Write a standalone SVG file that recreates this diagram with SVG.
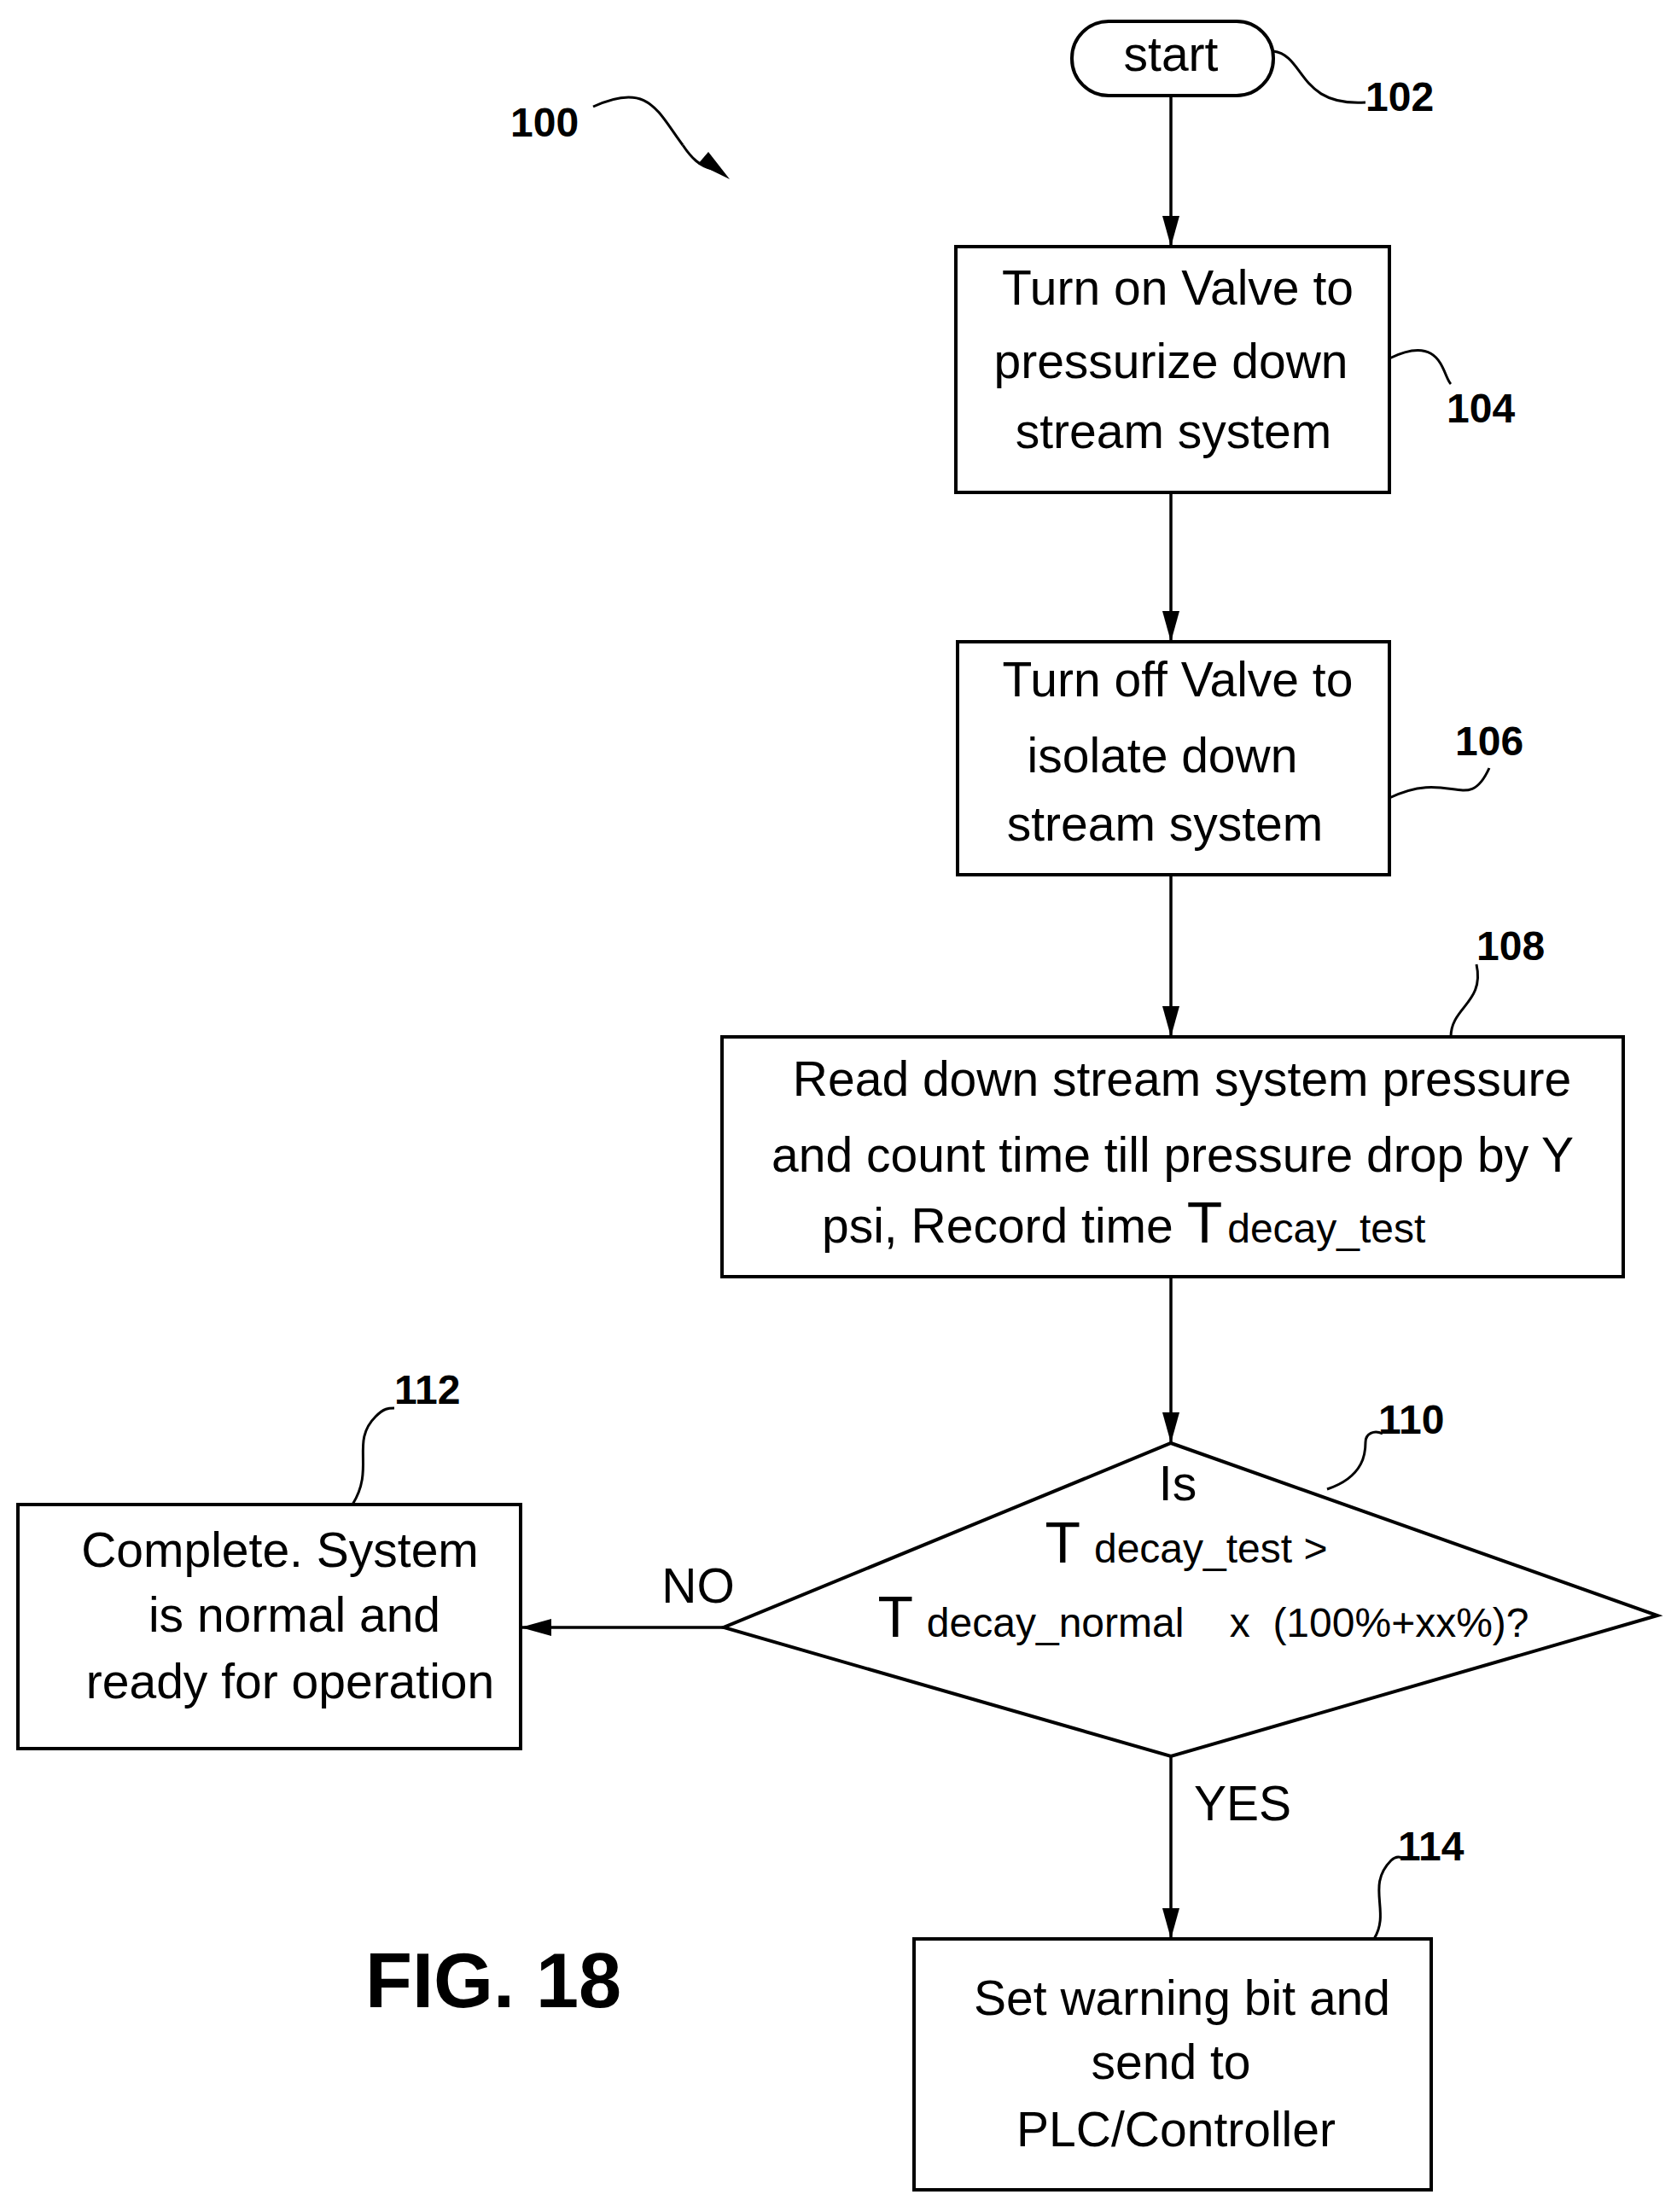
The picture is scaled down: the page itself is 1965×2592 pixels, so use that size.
<svg xmlns="http://www.w3.org/2000/svg" width="1965" height="2592" viewBox="0 0 1965 2592">
<style>
.b{fill:#fff;stroke:#000;stroke-width:4}
.t{font-family:"Liberation Sans",Arial,sans-serif;font-size:57px;text-anchor:middle}
.s{font-size:48px}
.T{font-size:68px}
.l{font-family:"Liberation Sans",Arial,sans-serif;font-size:48px;font-weight:bold}
.c{fill:none;stroke:#000;stroke-width:3}
.a{fill:none;stroke:#000;stroke-width:3.5;marker-end:url(#ah)}
</style>
<defs><marker id="ah" markerWidth="36" markerHeight="22" refX="36" refY="11" orient="auto" markerUnits="userSpaceOnUse" viewBox="0 0 36 22"><path d="M0,1 L36,11 L0,21 Z"/></marker></defs>
<rect width="1965" height="2592" fill="#fff"/>
<g id="n102"><rect class="b" x="1256" y="25" width="236" height="87" rx="43"/><text class="t" x="1372" y="83">start</text><path class="c" d="M1492,60 C1530,65 1520,125 1600,120"/><text class="l" x="1600" y="130">102</text></g>
<g id="n100"><text class="l" x="598" y="160">100</text><path class="c" d="M695,125 C760,95 770,130 800,170"/><path d="M855,210 L830,178 L818,192 Z"/><path class="c" d="M800,170 C810,185 820,195 835,198"/></g>
<g id="n104"><rect class="b" x="1120" y="289" width="508" height="288"/><text class="t" x="1380" y="357">Turn on Valve to</text><text class="t" x="1372" y="443">pressurize down</text><text class="t" x="1375" y="525">stream system</text><path class="c" d="M1628,420 C1690,390 1690,440 1700,450"/><text class="l" x="1695" y="495">104</text></g>
<g id="n106"><rect class="b" x="1122" y="752" width="506" height="273"/><text class="t" x="1380" y="816">Turn off Valve to</text><text class="t" x="1362" y="905">isolate down</text><text class="t" x="1365" y="985">stream system</text><path class="c" d="M1628,935 C1700,900 1720,955 1745,900"/><text class="l" x="1705" y="885">106</text></g>
<g id="n108"><rect class="b" x="846" y="1215" width="1056" height="281"/><text class="t" x="1385" y="1284">Read down stream system pressure</text><text class="t" x="1374" y="1373">and count time till pressure drop by Y</text><text class="t" x="963" y="1456" style="text-anchor:start">psi, Record time <tspan class="T">T</tspan><tspan class="s" dx="6">decay_test</tspan></text><path class="c" d="M1700,1215 C1700,1180 1740,1175 1730,1130"/><text class="l" x="1730" y="1125">108</text></g>
<g id="n110"><path class="b" d="M1372,1691 L1942,1893 L1372,2058 L848,1907 Z"/><text class="t" x="1380" y="1758">Is</text><text class="t" x="1390" y="1831"><tspan class="T">T</tspan> <tspan class="s">decay_test &gt;</tspan></text><text class="t" x="1410" y="1918"><tspan class="T">T</tspan> <tspan class="s" xml:space="preserve">decay_normal    x  (100%+xx%)?</tspan></text><path class="c" d="M1555,1745 C1600,1730 1600,1700 1600,1690 C1600,1680 1610,1675 1620,1680"/><text class="l" x="1615" y="1680">110</text></g>
<g id="n112"><rect class="b" x="21" y="1763" width="589" height="286"/><text class="t" x="328" y="1836">Complete. System</text><text class="t" x="345" y="1912">is normal and</text><text class="t" x="340" y="1990">ready for operation</text><path class="c" d="M413,1763 C440,1720 410,1690 440,1660 C450,1650 455,1650 462,1650"/><text class="l" x="462" y="1645">112</text></g>
<g id="n114"><rect class="b" x="1071" y="2272" width="606" height="294"/><text class="t" x="1385" y="2361">Set warning bit and</text><text class="t" x="1372" y="2436">send to</text><text class="t" x="1378" y="2515">PLC/Controller</text><path class="c" d="M1610,2272 C1630,2240 1600,2210 1630,2180 C1635,2175 1640,2175 1645,2178"/><text class="l" x="1638" y="2180">114</text></g>
<text class="l" x="428" y="2352" style="font-size:90px">FIG. 18</text>
<g id="connectors">
<path class="a" d="M1372,112 L1372,289"/>
<path class="a" d="M1372,577 L1372,752"/>
<path class="a" d="M1372,1025 L1372,1215"/>
<path class="a" d="M1372,1496 L1372,1691"/>
<path class="a" d="M848,1907 L610,1907"/>
<path class="a" d="M1372,2058 L1372,2272"/>
<text class="t" x="818" y="1878">NO</text>
<text class="t" x="1456" y="2133">YES</text>
</g>
</svg>
